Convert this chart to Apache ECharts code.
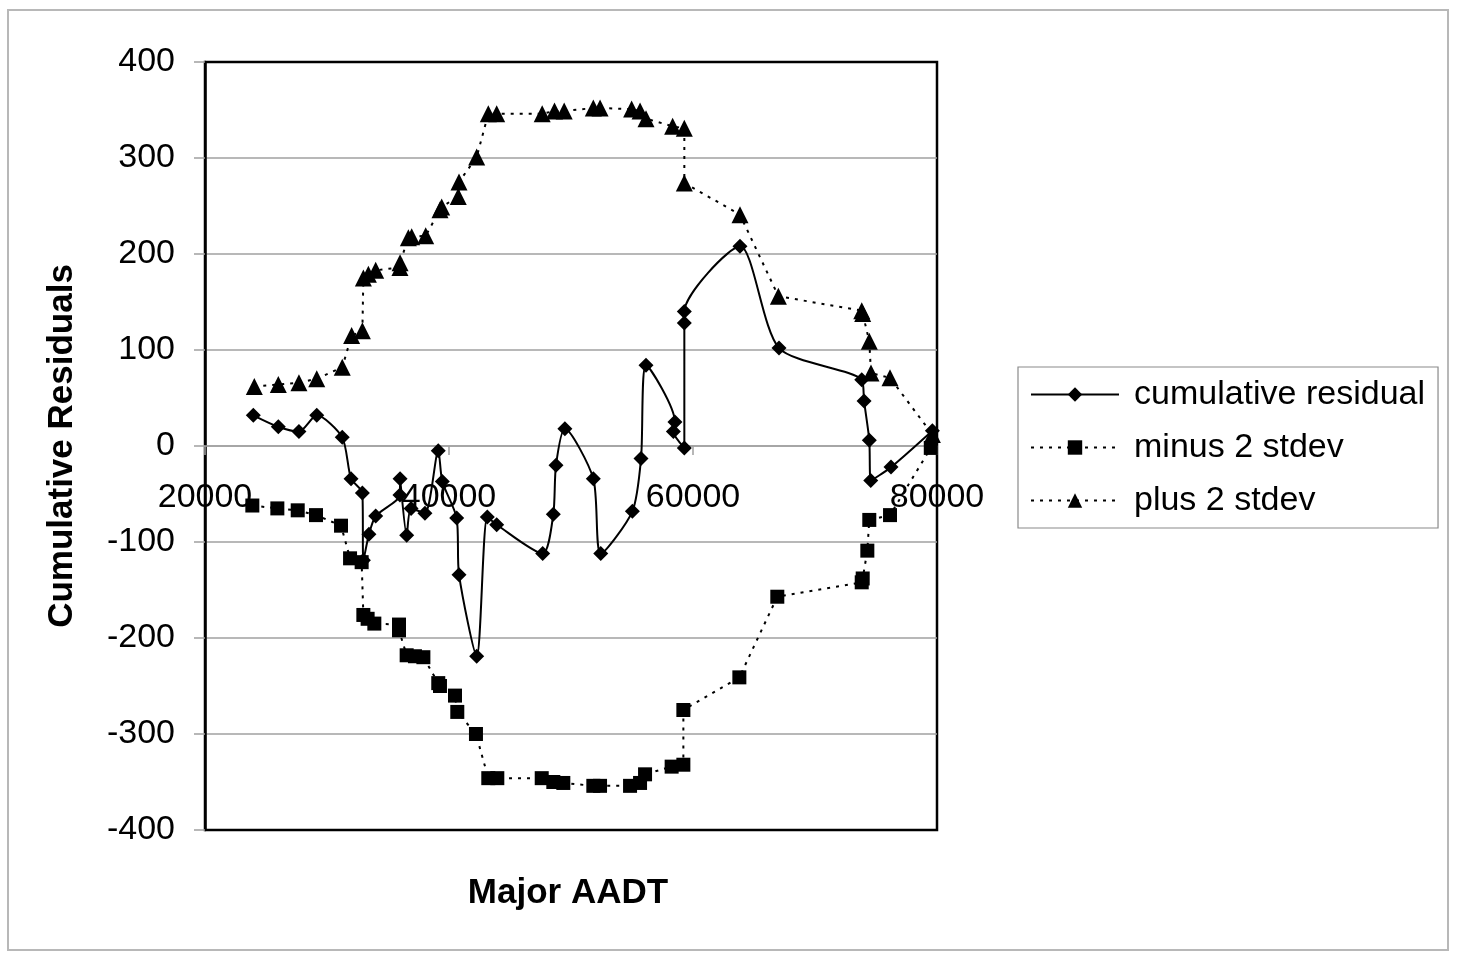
<!DOCTYPE html>
<html>
<head>
<meta charset="utf-8">
<script src="https://cdn.jsdelivr.net/npm/echarts@6/dist/echarts.min.js"></script>
<style>
html,body{margin:0;padding:0;background:#fff;}
#chart{width:1466px;height:956px;}
</style>
</head>
<body>
<div id="chart"></div>
<script>
// ---- data ----
const residX = [23960,26010,27700,29160,31250,31970,32900,32980,33440,33990,35980,35990,36530,36890,38030,39120,39450,40630,40820,42270,43140,43910,47680,48550,48770,49500,51830,52440,55030,55740,56150,58520,58390,59290,59290,59290,63850,67050,73830,74020,74450,74570,76230,79620];
const residY = [32,20,15,32,9,-34,-49,-119,-92,-73,-51,-34,-93,-65,-70,-5,-37,-75,-134,-219,-74,-82,-112,-71,-20,18,-34,-112,-68,-13,84,25,15,-2,128,140,208,102,69,47,6,-36,-22,16];

const minusX = [23880,25930,27600,29100,31150,31890,32840,32980,33330,33880,35900,35900,36530,37210,37900,39120,39260,40490,40680,42210,43220,43960,47600,48550,49370,51830,52380,54840,55660,56070,58250,59210,59210,63800,66910,73830,73910,74290,74450,76150,79490];
const minusY = [-62,-65,-67,-72,-83,-117,-121,-176,-180,-185,-186,-192,-218,-219,-220,-247,-250,-260,-277,-300,-346,-346,-346,-350,-351,-354,-354,-354,-351,-342,-334,-332,-275,-241,-157,-142,-138,-109,-77,-72,-2];

const plusX = [24040,26010,27700,29160,31250,32020,32900,32980,33390,33990,35980,35990,36670,36940,38090,39260,39400,40760,40820,42270,43220,43910,47640,48650,49440,51830,52380,54970,55660,56150,58330,59290,59290,63850,67000,73830,73910,74450,74590,76150,79620];
const plusY = [62,64,66,70,82,115,120,175,179,183,186,191,217,218,219,246,249,260,275,301,346,346,346,349,349,352,352,351,349,341,333,331,274,241,156,141,138,109,76,71,12];

const xTicks = [20000, 40000, 60000, 80000];
const yTicks = [-400,-300,-200,-100,0,100,200,300,400];
const seriesNames = ['cumulative residual','minus 2 stdev','plus 2 stdev'];
const xTitle = 'Major AADT';
const yTitle = 'Cumulative Residuals';

const zip = (xs, ys) => xs.map((x, i) => [x, ys[i]]);
const FONT = "'Liberation Sans', Arial, sans-serif";

const chart = echarts.init(document.getElementById('chart'), null, {renderer: 'canvas'});
chart.setOption({
  animation: false,
  backgroundColor: '#ffffff',
  textStyle: {fontFamily: FONT},
  grid: {left: 205, top: 62, right: 529, bottom: 126, show: true, borderColor: '#000', borderWidth: 2.5, backgroundColor: 'transparent'},
  xAxis: {
    type: 'value', min: xTicks[0], max: xTicks[xTicks.length - 1], interval: 20000,
    axisLine: {show: true, onZero: true, onZeroAxisIndex: 0, lineStyle: {color: '#a0a0a0', width: 1.5}},
    axisTick: {show: true, inside: false, length: 9, lineStyle: {color: '#a0a0a0', width: 1.5}},
    // labels sit just under the zero line, as in the reference
    axisLabel: {show: true, margin: -349, fontSize: 34, color: '#000', fontFamily: FONT, showMinLabel: true, showMaxLabel: true,
      formatter: v => String(v)},
    splitLine: {show: false}
  },
  yAxis: {
    type: 'value', min: yTicks[0], max: yTicks[yTicks.length - 1], interval: 100,
    axisLine: {show: true, onZero: false, lineStyle: {color: '#000', width: 2.5}},
    axisTick: {show: true, inside: false, length: 11, lineStyle: {color: '#a0a0a0', width: 1.5}},
    axisLabel: {margin: 30, fontSize: 34, color: '#000', fontFamily: FONT, formatter: v => String(v)},
    splitLine: {show: true, showMinLine: false, showMaxLine: false, lineStyle: {color: '#a0a0a0', width: 1.5}}
  },
  legend: {
    show: true, orient: 'vertical', left: 1018, top: 367,
    padding: [7, 13, 7, 12], itemGap: 12,
    itemWidth: 88, itemHeight: 18,
    borderColor: '#8a8a8a', borderWidth: 1.2,
    textStyle: {fontSize: 34, color: '#000', fontFamily: FONT, lineHeight: 41, padding: [0, 0, 0, 10]},
    data: seriesNames
  },
  graphic: [
    {type: 'rect', silent: true, z: -10, shape: {x: 8, y: 10, width: 1440, height: 940},
     style: {fill: 'none', stroke: '#b8b8b8', lineWidth: 2}},
    {type: 'text', silent: true, x: 568, y: 893,
     style: {text: xTitle, font: "bold 35px " + FONT, fill: '#000', align: 'center', verticalAlign: 'middle'}},
    {type: 'text', silent: true, x: 62, y: 446, rotation: Math.PI / 2,
     style: {text: yTitle, font: "bold 35px " + FONT, fill: '#000', align: 'center', verticalAlign: 'middle'}}
  ],
  series: [
    {
      name: seriesNames[0], type: 'line', data: zip(residX, residY),
      smooth: 0.25, symbol: 'diamond', symbolSize: 15, z: 5,
      lineStyle: {color: '#000', width: 2, type: 'solid'},
      itemStyle: {color: '#000'}
    },
    {
      name: seriesNames[1], type: 'line', data: zip(minusX, minusY),
      smooth: false, symbol: 'rect', symbolSize: 14, z: 4,
      lineStyle: {color: '#000', width: 2, type: [3, 6]},
      itemStyle: {color: '#000'}
    },
    {
      name: seriesNames[2], type: 'line', data: zip(plusX, plusY),
      smooth: false, symbol: 'triangle', symbolSize: 17, z: 4,
      lineStyle: {color: '#000', width: 2, type: [3, 6]},
      itemStyle: {color: '#000'}
    }
  ]
});
</script>
</body>
</html>
